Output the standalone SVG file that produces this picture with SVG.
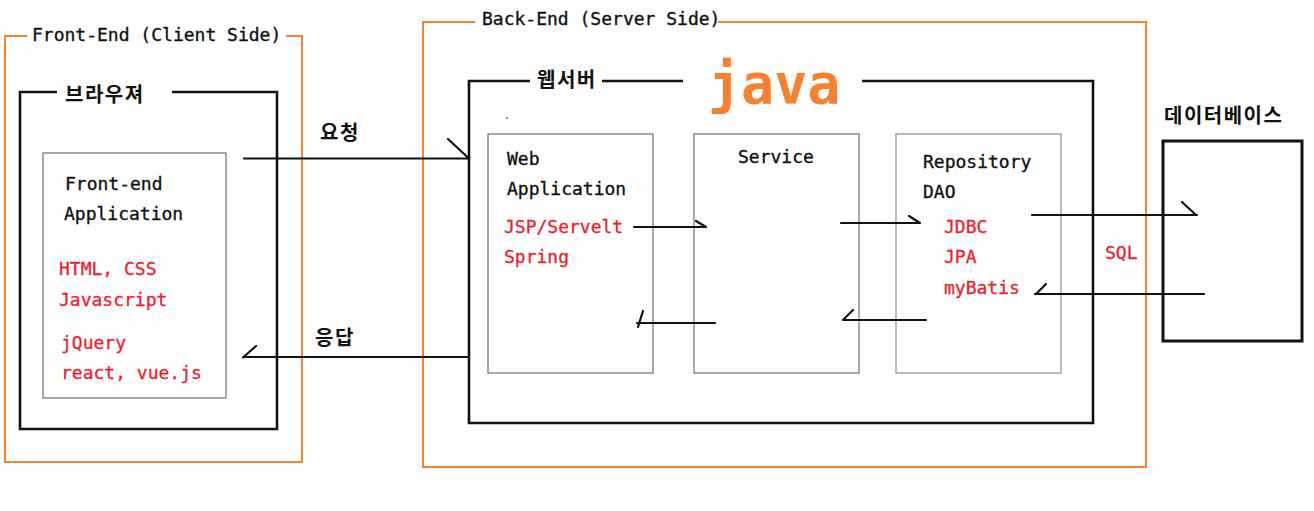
<svg xmlns="http://www.w3.org/2000/svg" width="1314" height="511" viewBox="0 0 1314 511">
<style>
.org{fill:none;stroke:#f7812f;stroke-width:2}
.blk{fill:none;stroke:#111;stroke-width:2.6}
.gry{fill:none;stroke:#6e6e6e;stroke-width:1.2}
.t{font-family:"DejaVu Sans Mono","Liberation Mono",monospace;font-size:18px;fill:#111;stroke:#111;stroke-width:0.35}
.r{font-family:"DejaVu Sans Mono","Liberation Mono",monospace;font-size:18px;fill:#ee1c2e;stroke:#ee1c2e;stroke-width:0.3}
.k{font-family:"Noto Sans CJK KR","Noto Sans",sans-serif;font-size:20px;font-weight:bold;fill:#111;letter-spacing:1.5px}
.c path{fill:none;stroke:#111;stroke-width:2.2;stroke-linecap:round}
</style>
<rect width="1314" height="511" fill="#fff"/>
<g id="frontend">
<path class="org" d="M27,36 H5 V462 H302 V36 H286"/>
<text class="t" x="32" y="41">Front-End (Client Side)</text>
</g>
<g id="browser">
<path class="blk" d="M57,92 H20 V429 H277 V92 H172"/>
<text class="k" x="65" y="102">브라우져</text>
</g>
<g id="frontend-app">
<rect class="gry" x="43" y="153" width="183" height="245"/>
<text class="t" x="65" y="190">Front-end</text>
<text class="t" x="64" y="220">Application</text>
<text class="r" x="59" y="275">HTML, CSS</text>
<text class="r" x="59" y="306">Javascript</text>
<text class="r" x="61" y="349">jQuery</text>
<text class="r" x="61" y="379">react, vue.js</text>
</g>
<g id="backend">
<path class="org" d="M475,22 H423 V467 H1146 V22 H718"/>
<text class="t" x="482" y="25">Back-End (Server Side)</text>
</g>
<g id="webserver">
<path class="blk" d="M530,81 H469 V423 H1093 V81 H862 M683,81 H602"/>
<text class="k" x="537" y="87">웹서버</text>
<text x="708" y="103" style="font-family:'DejaVu Sans Mono','Liberation Mono',monospace;font-size:55px;font-weight:bold;fill:#f7812f">java</text>
<circle cx="507" cy="118" r="1.3" fill="#999"/>
</g>
<g id="webapp">
<rect class="gry" x="488" y="134" width="165" height="239"/>
<text class="t" x="507" y="165">Web</text>
<text class="t" x="507" y="195">Application</text>
<text class="r" x="504" y="233">JSP/Servelt</text>
<text class="r" x="504" y="263">Spring</text>
</g>
<g id="service">
<rect class="gry" x="694" y="134" width="165" height="239"/>
<text class="t" x="738" y="163">Service</text>
</g>
<g id="repository">
<rect class="gry" x="896" y="134" width="165" height="239" style="stroke:#8a8a8a"/>
<text class="t" x="923" y="168">Repository</text>
<text class="t" x="923" y="198">DAO</text>
<text class="r" x="944" y="233">JDBC</text>
<text class="r" x="944" y="263">JPA</text>
<text class="r" x="944" y="294">myBatis</text>
</g>
<g id="database">
<rect x="1163" y="141" width="139" height="200" fill="none" stroke="#111" stroke-width="3"/>
<text class="k" x="1164" y="123">데이터베이스</text>
</g>
<g id="connectors" class="c">
<path d="M244,158.5 H469 M448,139 L469,158.5"/>
<path d="M469,357 H244 M256,346 L243,357.5"/>
<path d="M634,227 H706 M696,221 L706,227"/>
<path d="M841,223 H920 M909,216 L920,223"/>
<path d="M715,323 H637 M643,311 L638,327"/>
<path d="M926,320 H843 M853,310 L843,320"/>
<path d="M1032,215 H1197 M1182,202 L1196,215"/>
<path d="M1204,294 H1035 M1046,284 L1036,294"/>
</g>
<g id="labels">
<text class="k" x="320" y="140">요청</text>
<text class="k" x="315" y="345">응답</text>
<text class="r" x="1105" y="259">SQL</text>
</g>
</svg>
